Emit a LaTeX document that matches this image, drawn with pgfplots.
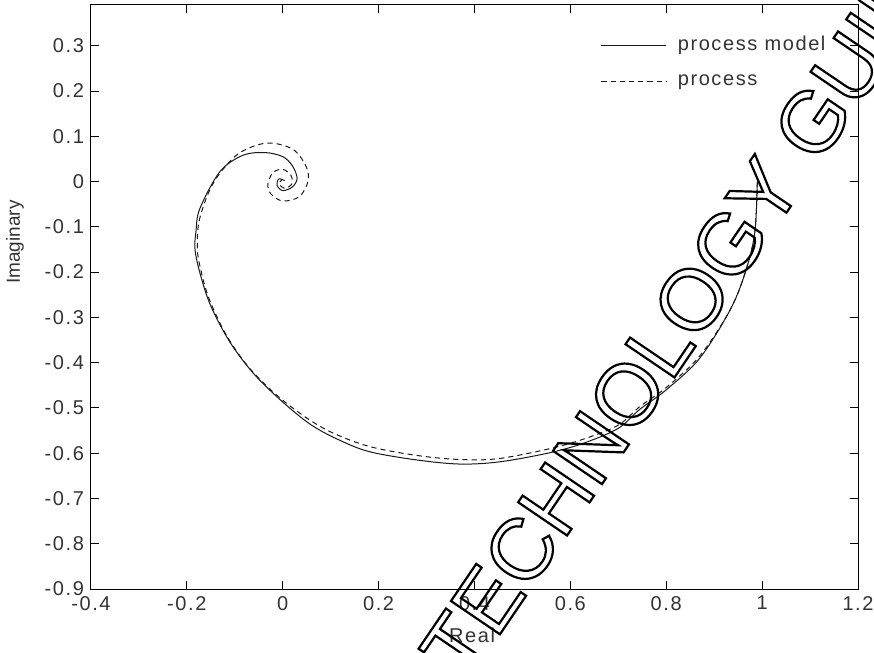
\documentclass[border=0pt]{standalone}
\usepackage{fontspec}
\setmainfont{Liberation Sans}
\newfontfamily\labelfont[LetterSpace=8]{Liberation Sans}
\usepackage{pgfplots}
\usepackage{pgfplotstable}
\pgfplotsset{compat=1.18}

% stroke-only text (text render mode 1)
\newcommand\outlinetext[1]{\special{pdf:literal direct 1 Tr 1.1 w}#1\special{pdf:literal direct 0 Tr}}

% Nyquist curve of the identified model
\pgfplotstableread{
re      im
0.990   0.000
0.985  -0.110
0.968  -0.190
0.935  -0.280
0.870  -0.390
0.800  -0.460
0.745  -0.503
0.700  -0.545
0.630  -0.577
0.557  -0.599
0.453  -0.619
0.370  -0.624
0.280  -0.615
0.182  -0.597
0.120  -0.572
0.060  -0.538
0.000  -0.487
-0.060 -0.425
-0.110 -0.355
-0.150 -0.275
-0.172 -0.205
-0.183 -0.150
-0.181 -0.110
-0.173 -0.060
-0.131  0.022
-0.083  0.058
-0.037  0.064
0.000   0.055
0.020   0.035
0.030   0.007
0.020  -0.012
0.000  -0.020
-0.012 -0.008
-0.008  0.006
0.004   0.002
}\modeltab

% Nyquist curve of the measured process
\pgfplotstableread{
re      im
0.990   0.000
0.985  -0.110
0.968  -0.190
0.935  -0.280
0.870  -0.385
0.800  -0.455
0.745  -0.497
0.700  -0.538
0.630  -0.568
0.557  -0.590
0.450  -0.612
0.370  -0.614
0.280  -0.605
0.180  -0.585
0.100  -0.553
0.040  -0.515
-0.020 -0.465
-0.075 -0.405
-0.120 -0.335
-0.155 -0.255
-0.172 -0.190
-0.178 -0.150
-0.175 -0.090
-0.155 -0.025
-0.130  0.020
-0.089  0.064
-0.033  0.085
0.020   0.072
0.048   0.035
0.053   0.002
0.035  -0.033
0.000  -0.043
-0.025 -0.027
-0.031 -0.005
-0.020  0.020
0.000   0.027
0.017   0.014
0.019  -0.005
0.005  -0.015
-0.007 -0.006
-0.002  0.004
}\processtab

\begin{document}
\begin{tikzpicture}
\begin{axis}[
  scale only axis,
  width=383.5pt, height=292pt,
  xmin=-0.4, xmax=1.2, ymin=-0.9, ymax=0.39,
  xtick={-0.4,-0.2,0,0.2,0.4,0.6,0.8,1,1.2},
  ytick={-0.9,-0.8,-0.7,-0.6,-0.5,-0.4,-0.3,-0.2,-0.1,0,0.1,0.2,0.3},
  tick align=inside,
  major tick length=4pt,
  every tick/.style={black, line width=0.5pt},
  axis line style={black, line width=0.5pt},
  /pgf/number format/assume math mode=true,
  /pgf/number format/fixed,
  ticklabel style={font=\labelfont\fontsize{10}{12}\selectfont, text=black!80},
  xlabel={Real}, ylabel={Imaginary},
  xlabel style={at={(axis description cs:0.497,-0.079)}, anchor=center,
    font=\labelfont\fontsize{10}{12}\selectfont, text=black!80},
  ylabel style={at={(axis description cs:-0.099,0.594)}, anchor=center,
    font=\fontsize{9.5}{12}\selectfont, text=black!80},
  legend style={draw=none, fill=none, at={(rel axis cs:0.962,0.952)},
    anchor=north east, inner sep=0pt, row sep=7.5pt,
    font=\labelfont\fontsize{10}{12}\selectfont, text=black!80,
    nodes={inner sep=1.5pt},
    /tikz/every odd column/.append style={column sep=4pt}},
  legend cell align=left,
  legend image code/.code={\draw[#1] (0pt,0pt) -- (32.5pt,0pt);},
]
\addplot[black!90, line width=0.5pt, smooth, tension=0.55] table[x=re, y=im] {\modeltab};
\addlegendentry{process model}
\addplot[black!90, line width=0.5pt, dash pattern=on 2.6pt off 2pt, smooth, tension=0.55] table[x=re, y=im] {\processtab};
\addlegendentry{process}
\coordinate (wm) at (rel axis cs:0.4892,-0.1625);
\end{axis}
\begin{scope}
  \clip ([xshift=-45.5pt, yshift=-31.5pt]current axis.south west)
    rectangle ([xshift=8pt, yshift=2.5pt]current axis.north east);
  \node[rotate=55.8, anchor=base west, inner sep=0pt,
    font=\fontsize{43}{48}\selectfont] at (wm) {\outlinetext{TECHNOLOGY GUIDE}};
\end{scope}
\pgfresetboundingbox
\path ([xshift=-45.5pt, yshift=-31.5pt]current axis.south west)
  rectangle ([xshift=8pt, yshift=2.5pt]current axis.north east);
\end{tikzpicture}
\end{document}
